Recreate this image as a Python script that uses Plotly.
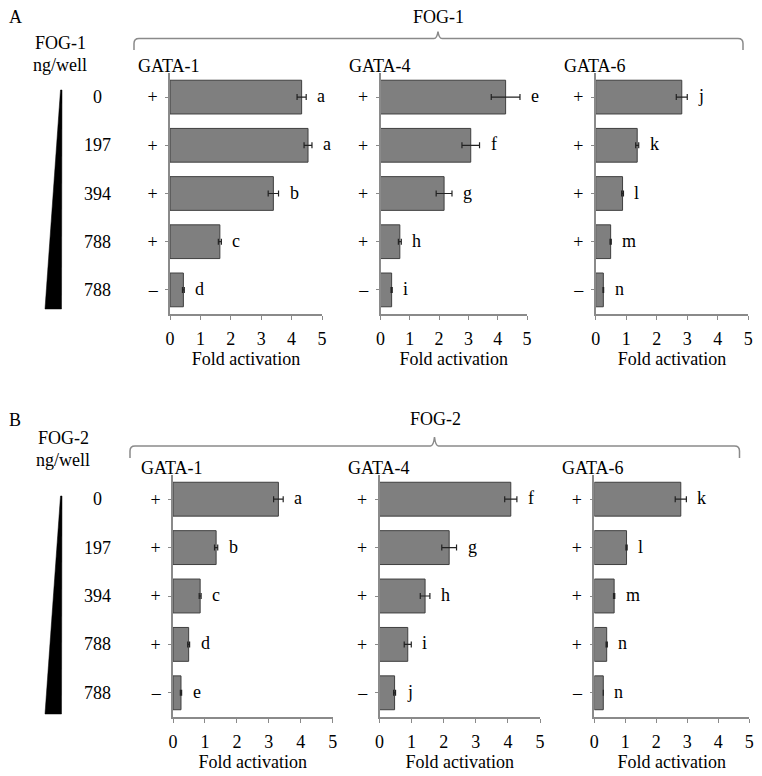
import plotly.graph_objects as go

# ---------------- data ----------------
doses = ["0", "197", "394", "788", "788"]
gata_signs = ["+", "+", "+", "+", "–"]
gata_names = ["GATA-1", "GATA-4", "GATA-6"]
x_ticks = [0, 1, 2, 3, 4, 5]

# Panel A (FOG-1)
A_gata1 = [4.33, 4.54, 3.40, 1.64, 0.44]
A_gata1_err = [0.15, 0.13, 0.17, 0.05, 0.03]
A_gata4 = [4.27, 3.08, 2.17, 0.66, 0.38]
A_gata4_err = [0.49, 0.30, 0.27, 0.05, 0.02]
A_gata6 = [2.82, 1.36, 0.88, 0.49, 0.25]
A_gata6_err = [0.18, 0.05, 0.03, 0.02, 0.01]
A_letters1 = ["a", "a", "b", "c", "d"]
A_letters4 = ["e", "f", "g", "h", "i"]
A_letters6 = ["j", "k", "l", "m", "n"]

# Panel B (FOG-2)
B_gata1 = [3.30, 1.35, 0.85, 0.49, 0.25]
B_gata1_err = [0.15, 0.05, 0.03, 0.03, 0.02]
B_gata4 = [4.09, 2.17, 1.42, 0.88, 0.47]
B_gata4_err = [0.19, 0.23, 0.15, 0.11, 0.03]
B_gata6 = [2.79, 1.04, 0.64, 0.40, 0.29]
B_gata6_err = [0.18, 0.02, 0.02, 0.02, 0.0]
B_letters1 = ["a", "b", "c", "d", "e"]
B_letters4 = ["f", "g", "h", "i", "j"]
B_letters6 = ["k", "l", "m", "n", "n"]

# ---------------- layout helpers ----------------
W, H = 762, 776
OFF = 8  # page body margin offset
FONT = "Liberation Serif, Times New Roman, serif"
FS = 18
GRAY = "#8a8a8a"


def px(x):
    return (x - OFF) / W


def py(y):
    return 1 - (y - OFF) / H


panels = [
    # values, errors, letters, x pixel domain, y pixel domain
    (A_gata1, A_gata1_err, A_letters1, (170, 322), (73, 314)),
    (A_gata4, A_gata4_err, A_letters4, (380.5, 527), (73, 314)),
    (A_gata6, A_gata6_err, A_letters6, (595.7, 748.3), (73, 314)),
    (B_gata1, B_gata1_err, B_letters1, (173, 332.7), (475, 717)),
    (B_gata4, B_gata4_err, B_letters4, (379.5, 540), (475, 717)),
    (B_gata6, B_gata6_err, B_letters6, (594.3, 749.3), (475, 717)),
]

rows = list(range(len(doses)))
fig = go.Figure()
annotations = []
layout = {}

for i, (vals, errs, letters, xd, yd) in enumerate(panels):
    n = "" if i == 0 else str(i + 1)
    xa, ya = "x" + n, "y" + n
    fig.add_trace(go.Bar(
        x=vals, y=rows, orientation="h", xaxis=xa, yaxis=ya,
        width=0.7,
        marker=dict(color="#7f7f7f", line=dict(color="#3f3f3f", width=1)),
        error_x=dict(type="data", array=errs, visible=True,
                     color="#222222", thickness=1.2, width=3),
        showlegend=False, hoverinfo="x",
    ))
    layout["xaxis" + n] = dict(
        domain=[px(xd[0]), px(xd[1])], anchor=ya, range=[0, 5],
        tickvals=x_ticks, ticks="outside", ticklen=4, tickcolor=GRAY,
        showline=True, linecolor=GRAY, linewidth=1.5, showgrid=False,
        zeroline=False, tickfont=dict(family=FONT, size=FS, color="black"),
        ticklabelstandoff=4,
        title=dict(text="Fold activation", standoff=2,
                   font=dict(family=FONT, size=FS, color="black")),
        automargin=False, fixedrange=True,
    )
    layout["yaxis" + n] = dict(
        domain=[py(yd[1]), py(yd[0])], anchor=xa, range=[4.5, -0.5],
        tickvals=rows, ticktext=gata_signs, ticks="outside", ticklen=3,
        tickcolor=GRAY, ticklabelstandoff=4,
        showline=True, linecolor=GRAY, linewidth=1.5, showgrid=False,
        zeroline=False, tickfont=dict(family=FONT, size=FS, color="black"),
        automargin=False, fixedrange=True,
    )
    # significance letters
    for r, (v, e, lt) in enumerate(zip(vals, errs, letters)):
        annotations.append(dict(
            x=v + e, y=r, xref=xa, yref=ya, text=lt, showarrow=False,
            xanchor="left", xshift=9, yshift=1,
            font=dict(family=FONT, size=FS, color="black"),
        ))
    # GATA titles
    annotations.append(dict(
        x=0, y=1, xref=xa + " domain", yref=ya + " domain",
        text=gata_names[i % 3], showarrow=False, xanchor="left",
        yanchor="bottom", xshift=-34, yshift=-5,
        font=dict(family=FONT, size=FS, color="black"),
    ))

# dose labels
for ya in ["y", "y4"]:
    for r, d in enumerate(doses):
        annotations.append(dict(
            x=px(97), y=r, xref="paper", yref=ya, text=d, showarrow=False,
            xanchor="center", font=dict(family=FONT, size=FS, color="black"),
        ))


# static texts
def txt(t, x, y, anchor="center"):
    annotations.append(dict(
        x=px(x), y=py(y), xref="paper", yref="paper", text=t,
        showarrow=False, xanchor=anchor, yanchor="middle",
        font=dict(family=FONT, size=FS, color="black"),
    ))


txt("A", 15.5, 17)
txt("B", 14.5, 420)
txt("FOG-1", 438, 17)
txt("FOG-2", 435, 419)
txt("FOG-1", 60, 43)
txt("ng/well", 60, 65)
txt("FOG-2", 63, 438)
txt("ng/well", 63, 460)

shapes = []


def P(x, y):
    return f"{px(x):.5f},{py(y):.5f}"


def brace(x0, x1, xp, y, yb, h):
    r = 5
    path = (f"M{P(x0, yb)} L{P(x0, y + r)} Q{P(x0, y)} {P(x0 + r, y)} "
            f"L{P(xp - 4, y)} Q{P(xp - 1, y)} {P(xp, y - h)} "
            f"Q{P(xp + 1, y)} {P(xp + 4, y)} "
            f"L{P(x1 - r, y)} Q{P(x1, y)} {P(x1, y + r)} L{P(x1, yb)}")
    shapes.append(dict(type="path", xref="paper", yref="paper", path=path,
                       line=dict(color=GRAY, width=1.5)))


brace(134, 743, 438, 38.5, 50, 7)
brace(130, 739.5, 434.5, 446, 458, 9)


def triangle(top, bottom):
    path = f"M{P(60.5, top)} L{P(62, top)} L{P(61.5, bottom)} L{P(45, bottom)} Z"
    shapes.append(dict(type="path", xref="paper", yref="paper", path=path,
                       fillcolor="black", line=dict(color="black", width=0.5)))


triangle(90, 309)
triangle(496, 714)

fig.update_layout(
    width=W, height=H, margin=dict(l=0, r=0, t=0, b=0, autoexpand=False),
    paper_bgcolor="white", plot_bgcolor="white",
    annotations=annotations, shapes=shapes, showlegend=False,
    **layout,
)

fig.write_html("out.html")
